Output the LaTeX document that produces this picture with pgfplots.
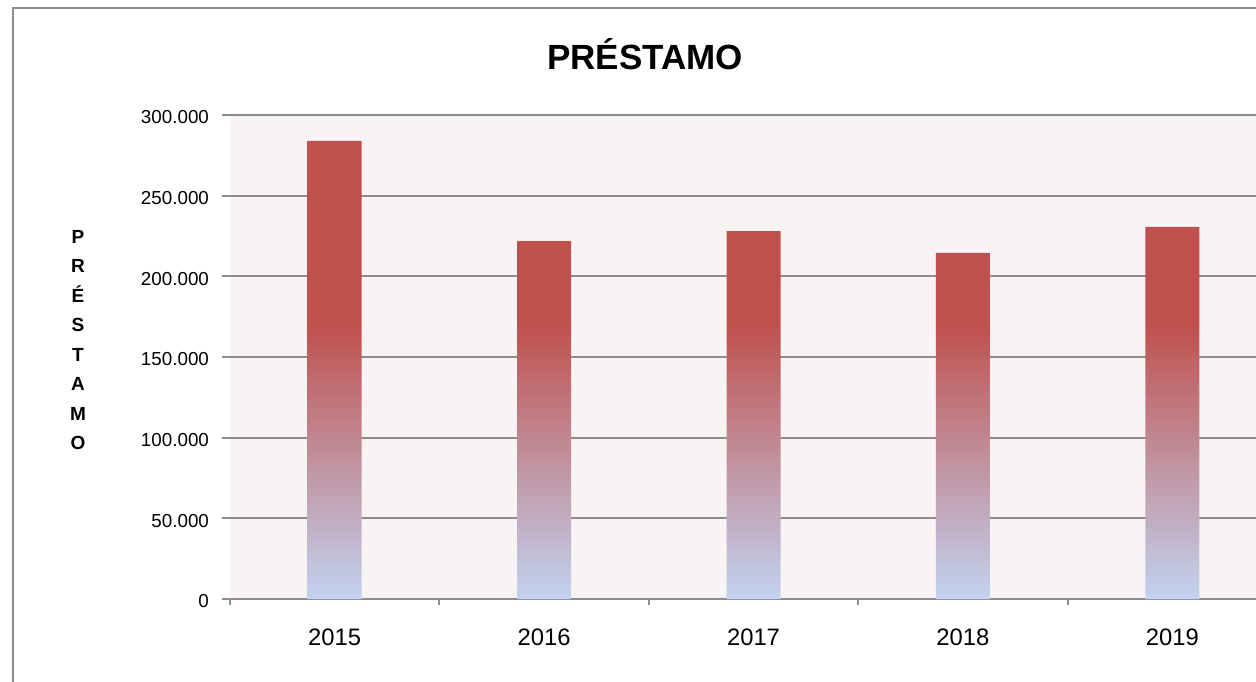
\documentclass[border=0pt]{standalone}
\usepackage{pgfplots}
\pgfplotsset{compat=1.18}
\usepackage{fontspec}
\setmainfont{Liberation Sans}
\definecolor{barred}{HTML}{C0504D}
\definecolor{barblue}{HTML}{C2D3F0}
\definecolor{plotbg}{HTML}{F9F4F4}
\definecolor{gridgray}{HTML}{8C8C8C}
\pgfdeclareverticalshading{barshade}{100bp}{color(0bp)=(barblue); color(25bp)=(barblue); color(55bp)=(barred); color(100bp)=(barred)}
\begin{document}
\begin{tikzpicture}[x=1pt,y=1pt]
\useasboundingbox (0,0) rectangle (628,340.5);
\clip (0,0) rectangle (628,340.5);
\draw[gridgray, line width=1pt] (6.5,-20) rectangle (700,336.5);
\begin{axis}[
  at={(115pt,41pt)}, anchor=south west,
  scale only axis, width=523.5pt, height=242pt,
  xmin=0, xmax=5, ymin=0, ymax=300000,
  axis background/.style={fill=plotbg},
  axis line style={draw=none},
  xtick={0.5,1.5,2.5,3.5,4.5},
  xticklabels={2015,2016,2017,2018,2019},
  minor xtick={0,1,2,3,4,5},
  xtick pos=bottom, ytick pos=left,
  tick align=outside,
  xtick style={draw=none},
  minor x tick style={draw=gridgray, line width=1pt},
  minor tick length=3pt,
  ytick={0,50000,100000,150000,200000,250000,300000},
  y tick style={draw=gridgray, line width=1pt},
  major tick length=4pt,
  ymajorgrids,
  major grid style={draw=gridgray, line width=1pt},
  scaled y ticks=false,
  /pgf/number format/.cd, fixed, 1000 sep={.}, assume math mode=true,
  /pgfplots/.cd,
  yticklabel style={font=\fontsize{9.4}{11}\selectfont, anchor=east, xshift=-3pt, yshift=-1.2pt},
  xticklabel style={font=\fontsize{11.9}{14}\selectfont, anchor=base, yshift=-19pt},
  title={\bfseries PRÉSTAMO},
  title style={font=\fontsize{17.5}{20}\selectfont, at={(rel axis cs:0.3964,1.070)}, anchor=base},
  ylabel={P\\R\\É\\S\\T\\A\\M\\O},
  ylabel style={rotate=-90, align=center, font=\bfseries\fontsize{9.5}{14.75}\selectfont, at={(rel axis cs:-0.1452,0.535)}, anchor=center},
]
\addplot[ybar, bar width=27pt, draw=none, shading=barshade] coordinates {
  (0.5,283900) (1.5,221900) (2.5,228100) (3.5,214500) (4.5,230600)
};
\end{axis}
\end{tikzpicture}
\end{document}
